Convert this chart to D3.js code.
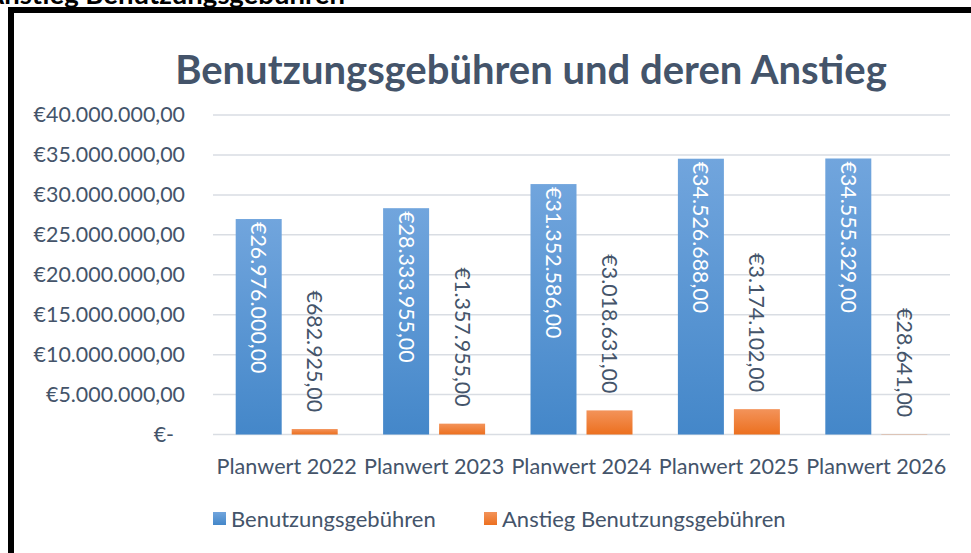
<!DOCTYPE html>
<html>
<head>
<meta charset="utf-8">
<script src="https://cdn.jsdelivr.net/npm/d3@7"></script>
<style>
  body { margin: 0; background: #fff; }
  svg { display: block; font-family: Lato, "Open Sans", sans-serif; }
</style>
</head>
<body>
<div id="chart"></div>
<script>
// data
const categories = ["Planwert 2022", "Planwert 2023", "Planwert 2024", "Planwert 2025", "Planwert 2026"];
const gebuehren = [26976000, 28333955, 31352586, 34526688, 34555329];
const anstieg = [682925, 1357955, 3018631, 3174102, 28641];
const seriesNames = ["Benutzungsgebühren", "Anstieg Benutzungsgebühren"];
const yTicks = [0, 5e6, 10e6, 15e6, 20e6, 25e6, 30e6, 35e6, 40e6];

const W = 971, H = 553;
const textColor = "#44546A";

const svg = d3.select("#chart").append("svg")
    .attr("width", W).attr("height", H);

// gradients (light on top, darker below)
const defs = svg.append("defs");
function grad(id, top, bottom) {
  const g = defs.append("linearGradient").attr("id", id)
      .attr("x1", 0).attr("y1", 0).attr("x2", 0).attr("y2", 1);
  g.append("stop").attr("offset", "0%").attr("stop-color", top);
  g.append("stop").attr("offset", "100%").attr("stop-color", bottom);
}
grad("gBlue", "#71A5DD", "#4487C9");
grad("gOrange", "#F3935A", "#EC701F");
const fills = ["url(#gBlue)", "url(#gOrange)"];

// heading above the frame, cut off by the page edge like in the screenshot
svg.append("text")
    .attr("x", 345).attr("y", 4)
    .attr("text-anchor", "end")
    .attr("font-size", 27.5).attr("font-weight", "bold")
    .attr("fill", "#000")
    .text("Anstieg Benutzungsgebühren");

// black frame
svg.append("rect")
    .attr("x", 11).attr("y", 10)
    .attr("width", W + 20).attr("height", H + 20)
    .attr("fill", "none").attr("stroke", "#000").attr("stroke-width", 6);

// title
svg.append("text")
    .attr("x", 531).attr("y", 84)
    .attr("text-anchor", "middle")
    .attr("font-size", 40).attr("font-weight", "bold")
    .attr("fill", textColor)
    .text("Benutzungsgebühren und deren Anstieg");

const locale = d3.formatLocale({ decimal: ",", thousands: ".", grouping: [3], currency: ["€", ""] });
const euro = locale.format("$,.2f");

const plot = { left: 213, right: 950, top: 115, bottom: 434.5 };

const x = d3.scaleBand().domain(categories).range([plot.left, plot.right]);
const y = d3.scaleLinear().domain([0, 40e6]).range([plot.bottom, plot.top]);

// gridlines
svg.append("g").selectAll("line").data(yTicks).join("line")
    .attr("x1", plot.left).attr("x2", plot.right)
    .attr("y1", d => y(d)).attr("y2", d => y(d))
    .attr("stroke", "#D9DDE3").attr("stroke-width", 1.5);

// y axis labels
svg.append("g").selectAll("text").data(yTicks).join("text")
    .attr("x", d => d === 0 ? 174 : 185)
    .attr("y", d => y(d))
    .attr("dy", "0.35em")
    .attr("text-anchor", "end")
    .attr("font-size", 21.4)
    .attr("fill", textColor)
    .text(d => d === 0 ? "€-" : euro(d));

// x axis labels
svg.append("g").selectAll("text").data(categories).join("text")
    .attr("x", d => x(d) + x.bandwidth() / 2)
    .attr("y", 474)
    .attr("text-anchor", "middle")
    .attr("font-size", 21.6)
    .attr("fill", textColor)
    .text(d => d);

// bars
const barW = 46, gap = 10;
const series = [gebuehren, anstieg];
series.forEach((vals, si) => {
  const off = si === 0 ? -(gap / 2 + barW) : gap / 2;
  const g = svg.append("g");
  g.selectAll("rect").data(vals).join("rect")
      .attr("x", (d, i) => x(categories[i]) + x.bandwidth() / 2 + off)
      .attr("y", d => y(d))
      .attr("width", barW)
      .attr("height", d => y(0) - y(d))
      .attr("fill", fills[si]);

  g.selectAll("text").data(vals).join("text")
      .attr("transform", (d, i) => {
        const cx = x(categories[i]) + x.bandwidth() / 2 + off + barW / 2;
        const ty = si === 0 ? y(d) + 3 : y(d) - 17;
        return `translate(${cx},${ty}) rotate(90)`;
      })
      .attr("dy", "0.35em")
      .attr("text-anchor", si === 0 ? "start" : "end")
      .attr("font-size", 21.4)
      .attr("fill", si === 0 ? "#fff" : textColor)
      .text(d => euro(d));
});

// legend
const legendX = [213, 484];
seriesNames.forEach((name, i) => {
  svg.append("rect")
      .attr("x", legendX[i]).attr("y", 512)
      .attr("width", 13).attr("height", 13)
      .attr("fill", fills[i]);
  svg.append("text")
      .attr("x", legendX[i] + 18).attr("y", 519)
      .attr("dy", "0.35em")
      .attr("font-size", 22)
      .attr("fill", textColor)
      .text(name);
});
</script>
</body>
</html>
